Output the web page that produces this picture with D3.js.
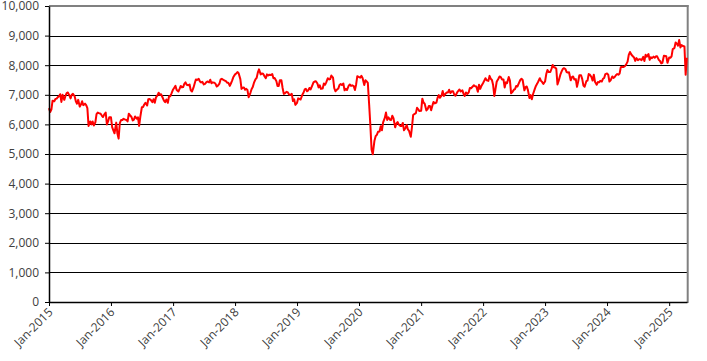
<!DOCTYPE html>
<html><head><meta charset="utf-8">
<script src="https://cdn.jsdelivr.net/npm/d3@7"></script>
<style>
body{margin:0;background:#fff}
svg{display:block}
text{font-family:"Open Sans",sans-serif;font-size:12px;fill:#404040}
</style>
</head><body>
<svg id="chart" width="707" height="361"></svg>
<script>
// Tick values
const yTicks = [0,1000,2000,3000,4000,5000,6000,7000,8000,9000,10000];
const xTickYears = [2015,2016,2017,2018,2019,2020,2021,2022,2023,2024,2025];
// Sampling days within each month (4 readings per month)
const sampleDays = [1,8,15,22];

// Index level, 4 readings per month, Jan..Dec
const v2015 = [6550,6420,6500,6800, 6780,6860,6870,6920, 6950,7020,6760,7000, 6830,6960,7060,7080,
               6980,6880,7000,7030, 6950,6780,6700,6830, 6600,6670,6780,6650, 6700,6650,6550,5950,
               6100,6000,6100,5960, 6070,6350,6400,6380, 6360,6300,6250,6330, 6400,6000,6100,6240];
const v2016 = [6240,5910,5800,5700, 6060,5690,5520,6040, 6150,6150,6190,6170, 6150,6100,6360,6310,
               6250,6130,6160,6270, 6190,6240,5950,6260, 6580,6590,6670,6730, 6640,6850,6860,6830,
               6750,6850,6730,6910, 6980,7070,7000,7020, 6900,6800,6750,6840, 6730,6950,6950,7040];
const v2017 = [7180,7240,7300,7160, 7110,7200,7300,7250, 7260,7370,7420,7340, 7320,7350,7150,7110,
               7240,7380,7520,7500, 7540,7450,7420,7440, 7350,7370,7420,7450, 7420,7510,7390,7420,
               7410,7370,7280,7310, 7380,7520,7540,7510, 7480,7460,7410,7410, 7300,7390,7490,7600];
const v2018 = [7690,7720,7770,7730, 7530,7200,7240,7250, 7170,7200,7160,6920, 7060,7190,7260,7400,
               7520,7570,7750,7860, 7690,7720,7710,7640, 7560,7690,7650,7680, 7670,7700,7560,7570,
               7470,7300,7300,7490, 7490,7230,7030,7050, 7100,7080,7010,7000, 7030,6790,6850,6660];
const v2019 = [6730,6880,6860,6840, 7000,7070,7180,7200, 7120,7150,7230,7180, 7320,7420,7450,7460,
               7380,7250,7320,7200, 7210,7380,7340,7420, 7560,7520,7530,7650, 7580,7230,7120,7160,
               7210,7330,7360,7330, 7380,7150,7200,7160, 7300,7350,7300,7320, 7290,7160,7350,7630];
const v2020 = [7600,7580,7640,7570, 7330,7490,7450,7400, 6650,5960,5150,4990, 5450,5600,5650,5750,
               5760,5940,5800,6070, 6220,6400,6150,6240, 6160,6150,6290,6210, 5900,6030,6080,6000,
               5950,5950,6050,5800, 5880,5980,5830,5780, 5580,5910,6320,6350, 6380,6560,6510,6450];
const v2021 = [6460,6870,6740,6700, 6470,6520,6620,6620, 6480,6630,6760,6710, 6740,6900,6990,6900,
               6970,7130,6960,7020, 7080,7080,7170,7060, 7120,7120,7010,6970, 7080,7130,7180,7110,
               7150,7030,6960,7080, 7030,7080,7230,7220, 7280,7320,7290,7280, 7100,7340,7200,7300];
const v2022 = [7400,7480,7560,7490, 7470,7640,7540,7500, 7330,6960,7190,7440, 7540,7620,7600,7520,
               7520,7250,7420,7390, 7600,7480,7050,7090, 7170,7190,7300,7280, 7410,7500,7540,7500,
               7150,7260,7280,7160, 6890,6990,6850,7020, 7190,7300,7370,7450, 7560,7470,7430,7370];
const v2023 = [7450,7700,7840,7770, 7770,7880,8010,7930, 7920,7880,7350,7470, 7680,7780,7870,7900,
               7870,7770,7750,7760, 7490,7600,7620,7520, 7530,7270,7450,7660, 7660,7530,7310,7270,
               7460,7480,7700,7680, 7600,7480,7680,7440, 7340,7430,7420,7470, 7450,7540,7570,7700];
const v2024 = [7720,7680,7450,7490, 7620,7570,7600,7660, 7700,7680,7720,7930, 7950,7940,7965,8020,
               8120,8350,8445,8370, 8300,8260,8146,8240, 8170,8200,8200,8170, 8280,8140,8350,8290,
               8376,8180,8270,8240, 8290,8250,8300,8300, 8180,8140,8060,8080, 8320,8310,8300,8080];
const v2025 = [8260,8250,8300,8545, 8580,8770,8730,8660, 8850,8600,8680,8650, 8630,7680,8250];

const yearly = [v2015,v2016,v2017,v2018,v2019,v2020,v2021,v2022,v2023,v2024,v2025];
const data = [];
yearly.forEach((vals, yi) => {
  vals.forEach((v, i) => {
    data.push({date: new Date(2015 + yi, Math.floor(i / 4), sampleDays[i % 4]), value: v});
  });
});

const svg = d3.select("#chart");
const x = d3.scaleTime().domain([new Date(2015,0,1), new Date(2025,3,16)]).range([49,687]);
const y = d3.scaleLinear().domain([0,10000]).range([302,6]);

// gridlines
svg.append("g").selectAll("line")
  .data(yTicks.filter(d => d > 0 && d < 10000))
  .join("line")
  .attr("x1", 49).attr("x2", 687)
  .attr("y1", d => Math.round(y(d)) + 0.5).attr("y2", d => Math.round(y(d)) + 0.5)
  .attr("stroke", "#000").attr("stroke-width", 1);

// top & right frame (gray)
svg.append("line").attr("x1",49).attr("x2",688.5).attr("y1",y(10000)).attr("y2",y(10000))
  .attr("stroke","#808080").attr("stroke-width",2);
svg.append("line").attr("x1",687.7).attr("x2",687.7).attr("y1",y(10000)-1).attr("y2",y(0)+1)
  .attr("stroke","#808080").attr("stroke-width",2);

// line
svg.append("path").datum(data)
  .attr("fill","none").attr("stroke","#ff0000").attr("stroke-width",2)
  .attr("stroke-linejoin","round")
  .attr("d", d3.line().x(d => x(d.date)).y(d => y(d.value)));

// y axis
const ya = svg.append("g").attr("transform","translate(49,0)")
  .call(d3.axisLeft(y).tickValues(yTicks).tickSize(4).tickSizeOuter(0).tickPadding(6)
    .tickFormat(d3.format(",")));
ya.select(".domain").attr("stroke","#000").attr("stroke-width",1.5);
ya.selectAll(".tick line").attr("stroke","#000");
ya.selectAll("text").style("font-family","'Open Sans',sans-serif").style("font-size","12px").attr("fill","#404040");

// x axis
const xa = svg.append("g").attr("transform","translate(0,302)")
  .call(d3.axisBottom(x).tickValues(xTickYears.map(yr => new Date(yr,0,1)))
    .tickSize(4).tickSizeOuter(0).tickFormat(d3.timeFormat("%b-%Y")));
xa.select(".domain").attr("stroke","#000").attr("stroke-width",1.5);
xa.selectAll(".tick line").attr("stroke","#000");
xa.selectAll("text")
  .attr("x",0).attr("y",0).attr("dy",0)
  .attr("text-anchor","end")
  .attr("transform","translate(4,11) rotate(-45)")
  .style("font-family","'Open Sans',sans-serif").style("font-size","12px").attr("fill","#404040");
</script>
</body></html>
